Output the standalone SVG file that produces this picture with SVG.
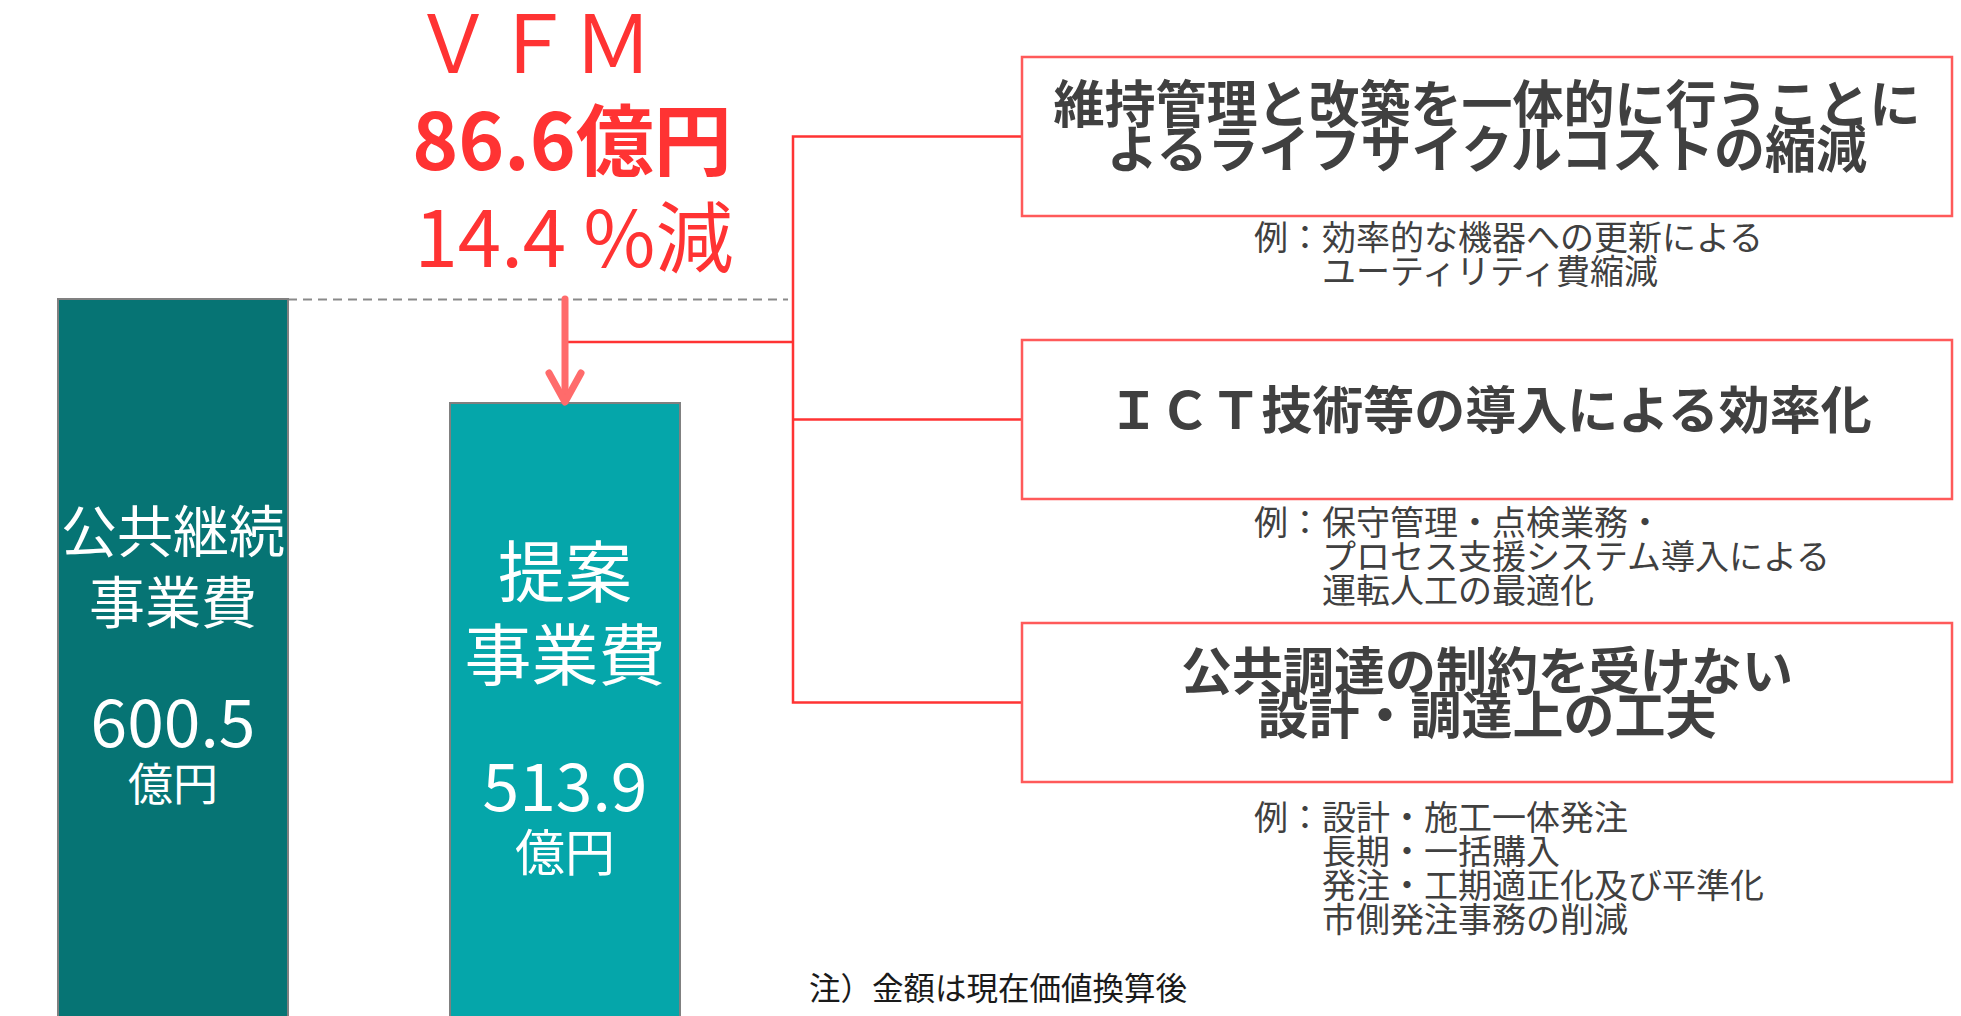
<svg xmlns="http://www.w3.org/2000/svg" width="1961" height="1016" viewBox="0 0 1961 1016">
<style>
  text { font-family: "Noto Sans CJK JP", "Noto Sans", sans-serif; }
  .red { fill: #FF3333; text-anchor: middle; }
  .bar { fill: #FFFFFF; text-anchor: middle; }
  .box { fill: #FFFFFF; stroke: #FF5A5A; stroke-width: 2.5; }
  .title { fill: #404040; font-weight: bold; font-size: 51px; text-anchor: middle; }
  .ex { fill: #404040; font-size: 34px; }
  .conn { stroke: #FF3333; stroke-width: 2.5; fill: none; }
</style>
<defs>
  <marker id="chev" viewBox="0 0 10 10" refX="5" refY="5" markerWidth="10" markerHeight="10" markerUnits="userSpaceOnUse" orient="auto">
    <path d="M0,0 L5,5 L0,10" fill="none"/>
  </marker>
</defs>
<rect width="1961" height="1016" fill="#FFFFFF"/>

<g id="vfm-label">
  <text class="red" x="533" y="73" font-size="80">ＶＦＭ</text>
  <text class="red" x="572" y="170" font-size="78" font-weight="bold">86.6億円</text>
  <text class="red" x="574" y="267" font-size="78">14.4 %減</text>
</g>

<g id="connectors">
  <line x1="288" y1="299.5" x2="788" y2="299.5" stroke="#8A8A8A" stroke-width="2" stroke-dasharray="9 6"/>
  <line class="conn" x1="565" y1="342" x2="793" y2="342"/>
  <polyline class="conn" points="1022,136.5 793,136.5 793,702.5 1022,702.5"/>
  <line class="conn" x1="793" y1="419.5" x2="1022" y2="419.5"/>
</g>

<g id="bar-public">
  <rect x="58" y="299" width="230" height="730" fill="#067474" stroke="#808080" stroke-width="2"/>
  <text class="bar" x="173" y="552" font-size="56">公共継続</text>
  <text class="bar" x="173" y="623" font-size="56">事業費</text>
  <text class="bar" x="173" y="747" font-size="66">600.5</text>
  <text class="bar" x="173" y="801" font-size="45">億円</text>
</g>

<g id="bar-proposal">
  <rect x="450" y="403" width="230" height="630" fill="#05A6AA" stroke="#808080" stroke-width="2"/>
  <text class="bar" x="565" y="597" font-size="67">提案</text>
  <text class="bar" x="565" y="680" font-size="67">事業費</text>
  <text class="bar" x="565" y="811" font-size="66">513.9</text>
  <text class="bar" x="565" y="871" font-size="50">億円</text>
</g>

<g id="arrow">
  <line x1="565" y1="299" x2="565" y2="400" stroke="#FF6B6B" stroke-width="7" stroke-linecap="round"/>
  <polyline points="549,373 565,402 581,373" fill="none" stroke="#FF6B6B" stroke-width="7" stroke-linecap="round" stroke-linejoin="round"/>
</g>

<g id="box-lifecycle">
  <rect class="box" x="1022" y="57" width="930" height="159"/>
  <text class="title" x="1487" y="123">維持管理と改築を一体的に行うことに</text>
  <text class="title" x="1487" y="168">よるライフサイクルコストの縮減</text>
  <text class="ex" x="1254" y="249.5">例：効率的な機器への更新による</text>
  <text class="ex" x="1322" y="283.5">ユーティリティ費縮減</text>
</g>

<g id="box-ict">
  <rect class="box" x="1022" y="340" width="930" height="159"/>
  <text class="title" x="1490" y="429">ＩＣＴ技術等の導入による効率化</text>
  <text class="ex" x="1254" y="535">例：保守管理・点検業務・</text>
  <text class="ex" x="1322" y="569">プロセス支援システム導入による</text>
  <text class="ex" x="1322" y="603">運転人工の最適化</text>
</g>

<g id="box-procurement">
  <rect class="box" x="1022" y="623" width="930" height="159"/>
  <text class="title" x="1487" y="690">公共調達の制約を受けない</text>
  <text class="title" x="1487" y="734">設計・調達上の工夫</text>
  <text class="ex" x="1254" y="829.5">例：設計・施工一体発注</text>
  <text class="ex" x="1322" y="863.5">長期・一括購入</text>
  <text class="ex" x="1322" y="897.5">発注・工期適正化及び平準化</text>
  <text class="ex" x="1322" y="931.5">市側発注事務の削減</text>
</g>

<g id="note">
  <text x="809" y="999.5" font-size="31.5" fill="#1A1A1A">注）金額は現在価値換算後</text>
</g>
</svg>
